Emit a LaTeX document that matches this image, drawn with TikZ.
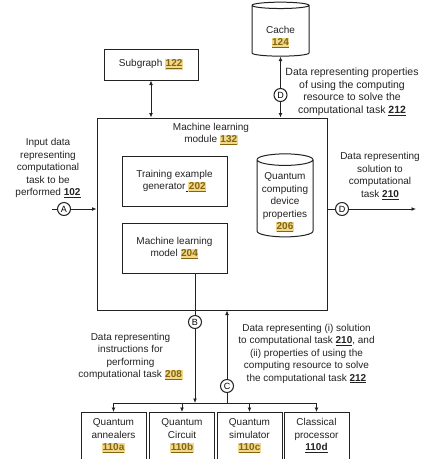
\documentclass[tikz,border=0pt]{standalone}
\usepackage{fontspec}
\setmainfont{Liberation Sans}
\usetikzlibrary{shapes.geometric,arrows.meta}
\definecolor{ink}{HTML}{222222}
\definecolor{hlbg}{HTML}{F0D88C}
\definecolor{hlfg}{HTML}{84640E}
% reference numerals: highlighted and plain
\newcommand{\hinum}[1]{{\setlength{\fboxsep}{0.6pt}\colorbox{hlbg}{\textcolor{hlfg}{\textbf{\underline{#1}}}}}}
\newcommand{\plnum}[1]{\textbf{\underline{#1}}}
% centred lines set lower than their box, for the cylinder bodies
\newcommand{\lowered}[2]{\raisebox{-#1}[\height][\depth]{\begin{tabular}{@{}c@{}}#2\end{tabular}}}

\begin{document}
\begin{tikzpicture}[x=1pt,y=-1pt,
  font=\fontsize{10}{12.5}\selectfont,
  line/.style={draw=ink, line width=1pt},
  arr/.style={line, -{Latex[length=4.5pt,width=4pt]}},
  darr/.style={line, {Latex[length=4.5pt,width=4pt]}-{Latex[length=4.5pt,width=4pt]}},
  box/.style={draw=ink, line width=1pt, rectangle, inner sep=0pt, align=center, text=ink},
  cyl/.style={cylinder, shape border rotate=90, draw=ink, line width=1pt, inner sep=0pt, text=ink},
  tag/.style={circle, draw=ink, line width=1pt, fill=white, inner sep=0pt, minimum size=13pt, font=\fontsize{9}{10}\selectfont},
  lbl/.style={align=center, text=ink, inner sep=0pt}
]
\useasboundingbox (0,0) rectangle (424,459);
\clip (0,0) rectangle (424,459);

% machine learning module and its parts
\node[box, minimum width=230pt, minimum height=192pt] (main) at (212,214) {};
\node[lbl] (title) at (211,134) {Machine learning\\module \hinum{132}};
\node[box, minimum width=105pt, minimum height=50pt] (gen) at (174.5,181) {Training example\\generator\underline{\ }\hinum{202}};
\node[box, minimum width=105pt, minimum height=50pt] (model) at (174.5,248) {Machine learning\\model \hinum{204}};
\node[cyl, minimum width=56pt, minimum height=83pt, aspect=0.25] (qdev) at (285,198.5)
  {\lowered{3.5pt}{Quantum\\computing\\device\\properties\\\hinum{206}}};

% subgraph and cache
\node[box, minimum width=94pt, minimum height=31pt] (sub) at (151,64.5) {Subgraph \hinum{122}};
\node[cyl, minimum width=57pt, minimum height=54pt, aspect=0.22] (cache) at (280.5,31)
  {\lowered{6pt}{Cache\\\hinum{124}}};

\draw[darr] (sub.south) -- (sub.south |- main.north);

\node[tag] (dtop) at (280.5,95) {D};
\draw[arr] (dtop) -- (cache.south);
\draw[arr] (dtop) -- (dtop |- main.north);
\node[lbl, font=\fontsize{10.5}{12.5}\selectfont] (l212a) at (352,92) {Data representing properties\\of using the computing\\resource to solve the\\computational task \plnum{212}};

% input
\coordinate (inA) at (52,209);
\node[tag] (ta) at (64,209) {A};
\draw[line] (inA) -- (ta);
\draw[arr] (ta) -- (ta -| main.west);
\node[lbl] (l102) at (48,168) {Input data\\representing\\computational\\task to be\\performed \plnum{102}};

% output
\node[tag] (tdr) at (342,209) {D};
\coordinate (outD) at (416,209);
\draw[line] (tdr -| main.east) -- (tdr);
\draw[arr] (tdr) -- (outD);
\node[lbl] (l210) at (380,176) {Data representing\\solution to\\computational\\task \plnum{210}};

% computing resources
\foreach \n/\x/\t in {qa/113.5/{Quantum\\annealers\\\hinum{110a}},
                      qb/182/{Quantum\\Circuit\\\hinum{110b}},
                      qc/249.5/{Quantum\\simulator\\\hinum{110c}},
                      qd/316.5/{Classical\\processor\\\plnum{110d}}}{
  \node[box, anchor=north, minimum width=65pt, minimum height=60pt] (\n) at (\x,412) {};
  \node[lbl, anchor=north] (\n-t) at (\x,418.5) {\t};
}

% bus to the resources
\coordinate (busy) at (0,403);
\draw[line] (qa.north |- busy) -- (qd.north |- busy);
\foreach \q in {qa,qb,qc,qd} \draw[arr] (\q.north |- busy) -- (\q.north);

\node[tag] (tb) at (195,322) {B};
\draw[line] (model.south -| tb) -- (tb);
\draw[arr] (tb) -- (tb |- busy);

\node[tag] (tc) at (227,386) {C};
\draw[line] (tc |- busy) -- (tc);
\draw[arr] (tc) -- (tc |- main.south);

\node[lbl] (l208) at (130.5,356.5) {Data representing\\instructions for\\performing\\computational task \hinum{208}};
\node[lbl] (l210b) at (306.5,353.5) {Data representing (i) solution\\to computational task \plnum{210}, and\\(ii) properties of using the\\computing resource to solve\\the computational task \plnum{212}};
\end{tikzpicture}
\end{document}
